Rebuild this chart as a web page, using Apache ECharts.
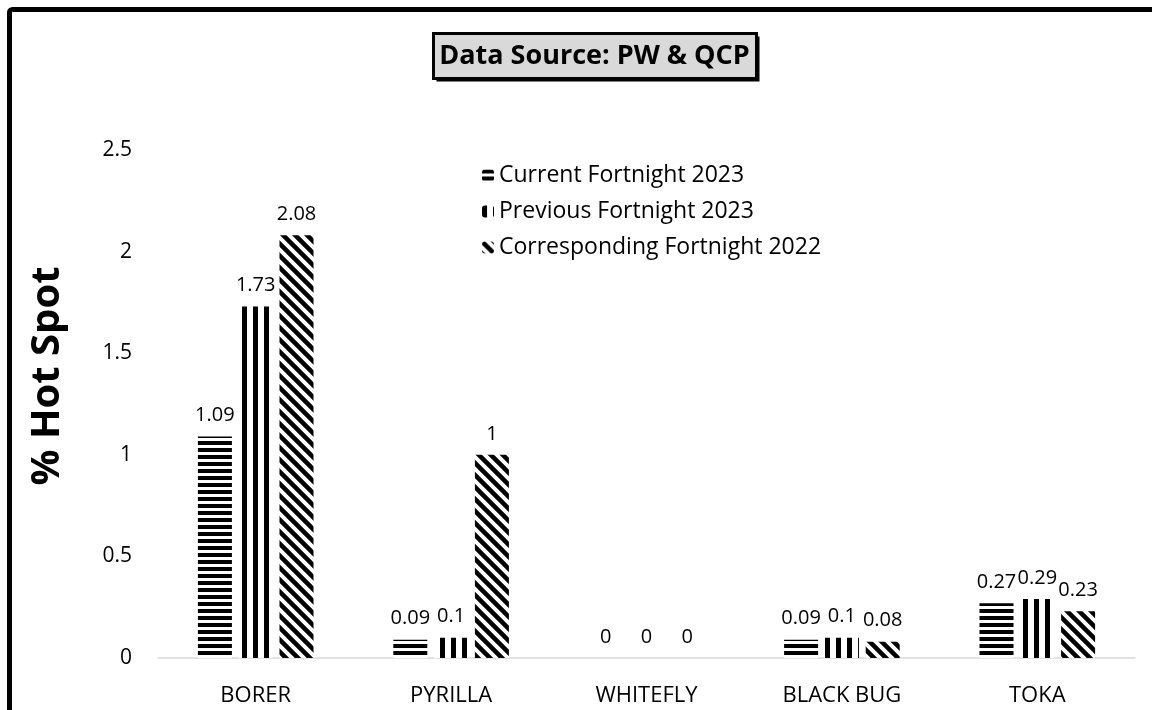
<!DOCTYPE html>
<html>
<head>
<meta charset="utf-8">
<script src="https://cdn.jsdelivr.net/npm/echarts@6/dist/echarts.min.js"></script>
<style>
html,body{margin:0;padding:0;background:#fff;}
#chart{width:1152px;height:710px;}
</style>
</head>
<body>
<div id="chart"></div>
<script>
const categories = ['BORER', 'PYRILLA', 'WHITEFLY', 'BLACK BUG', 'TOKA'];
const currentFortnight2023 = [1.09, 0.09, 0, 0.09, 0.27];
const previousFortnight2023 = [1.73, 0.1, 0, 0.1, 0.29];
const correspondingFortnight2022 = [2.08, 1, 0, 0.08, 0.23];
const seriesNames = ['Current Fortnight 2023', 'Previous Fortnight 2023', 'Corresponding Fortnight 2022'];

const FONT = 'Open Sans';

function makePattern(type) {
  const c = document.createElement('canvas');
  const ctx = c.getContext('2d');
  if (type === 'h') {
    c.width = 8; c.height = 7;
    ctx.fillStyle = '#fff'; ctx.fillRect(0, 0, 8, 7);
    ctx.fillStyle = '#000'; ctx.fillRect(0, 0, 8, 4);
  } else if (type === 'v') {
    c.width = 11; c.height = 8;
    ctx.fillStyle = '#fff'; ctx.fillRect(0, 0, 11, 8);
    ctx.fillStyle = '#000'; ctx.fillRect(0, 0, 5, 8);
  } else {
    const s = 12;
    c.width = s; c.height = s;
    ctx.fillStyle = '#fff'; ctx.fillRect(0, 0, s, s);
    ctx.strokeStyle = '#000'; ctx.lineWidth = 4.5;
    ctx.beginPath();
    ctx.moveTo(-s, -s); ctx.lineTo(2 * s, 2 * s);
    ctx.moveTo(-s, 0); ctx.lineTo(s, 2 * s);
    ctx.moveTo(0, -s); ctx.lineTo(2 * s, s);
    ctx.stroke();
  }
  return { image: c, repeat: 'repeat' };
}

const patterns = [makePattern('h'), makePattern('v'), makePattern('d')];
const dataSets = [currentFortnight2023, previousFortnight2023, correspondingFortnight2022];

const chart = echarts.init(document.getElementById('chart'), null, { renderer: 'canvas' });

const option = {
  animation: false,
  backgroundColor: '#fff',
  textStyle: { fontFamily: FONT },
  graphic: [
    {
      type: 'rect', silent: true, z: 100,
      shape: { x: 9.5, y: 9.5, width: 1300, height: 900, r: 3 },
      style: { fill: 'none', stroke: '#000', lineWidth: 5 }
    },
    {
      type: 'group', left: 432, top: 32, z: 100,
      children: [
        { type: 'rect', shape: { x: 3, y: 3, width: 323, height: 45 }, style: { fill: '#000' } },
        { type: 'rect', shape: { x: 0, y: 0, width: 323, height: 45 }, style: { fill: '#d9d9d9', stroke: '#000', lineWidth: 3 } },
        { type: 'text', x: 161, y: 23, style: { text: 'Data Source: PW & QCP', fontFamily: FONT, fontWeight: 'bold', fontSize: 27, fill: '#000', align: 'center', verticalAlign: 'middle' } }
      ]
    }
  ],
  legend: {
    orient: 'vertical',
    left: 477,
    top: 159,
    itemWidth: 12,
    itemHeight: 12,
    itemGap: 13,
    textStyle: { fontFamily: FONT, fontSize: 23, color: '#000' },
    data: seriesNames
  },
  grid: { left: 158, right: 17, top: 150, bottom: 52, containLabel: false },
  xAxis: {
    type: 'category',
    data: categories,
    axisLine: { lineStyle: { color: '#d9d9d9', width: 1.5 } },
    axisTick: { show: false },
    axisLabel: { color: '#000', fontSize: 22, fontFamily: FONT, margin: 27 }
  },
  yAxis: {
    type: 'value',
    min: 0, max: 2.5, interval: 0.5,
    name: '% Hot Spot',
    nameLocation: 'middle',
    nameGap: 90,
    nameTextStyle: { fontFamily: FONT, fontWeight: 'bold', fontSize: 40, color: '#000', padding: [0, 0, 0, 56] },
    splitLine: { show: false },
    axisLine: { show: false },
    axisTick: { show: false },
    axisLabel: { color: '#000', fontSize: 21, fontFamily: FONT, margin: 26 }
  },
  series: seriesNames.map((name, i) => ({
    name,
    type: 'bar',
    data: dataSets[i],
    barWidth: 34,
    barGap: '20%',
    itemStyle: { color: patterns[i] },
    label: {
      show: true, position: 'top', distance: 11,
      color: '#000', fontSize: 20, fontFamily: FONT
    }
  }))
};

chart.setOption(option);
</script>
</body>
</html>
